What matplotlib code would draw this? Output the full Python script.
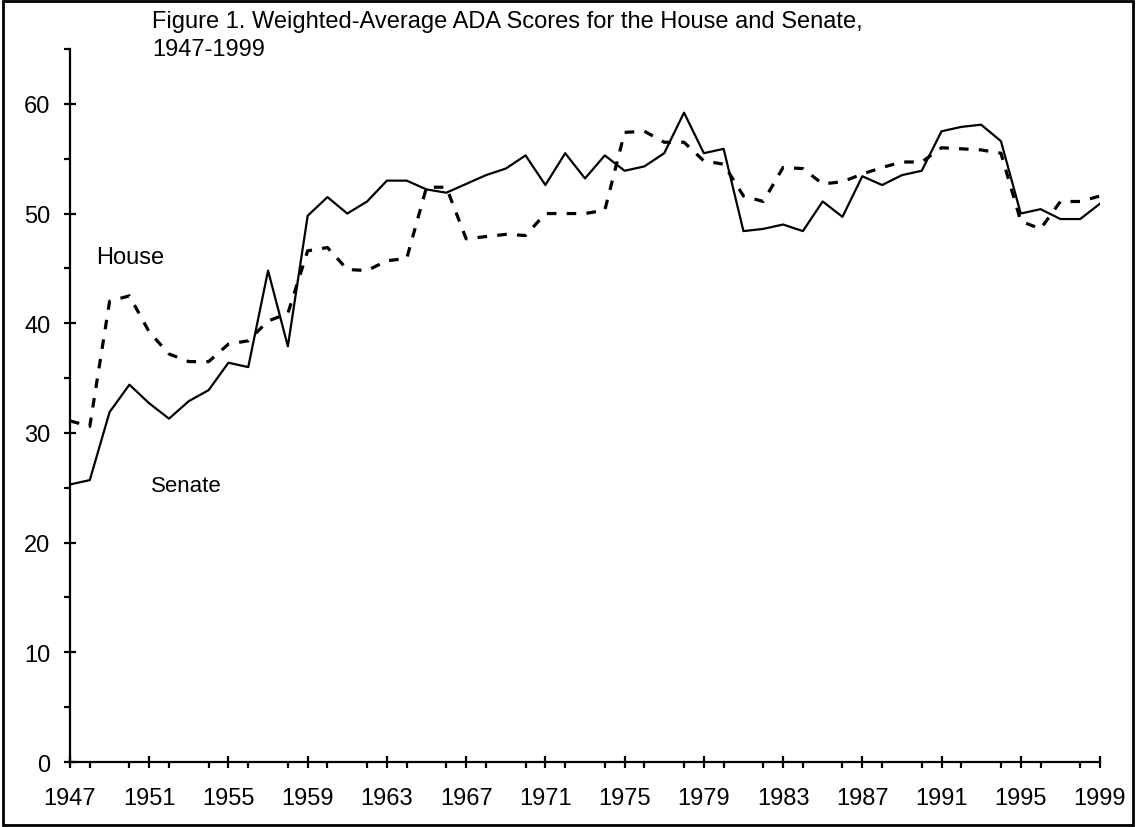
import matplotlib
matplotlib.use("Agg")
import matplotlib.pyplot as plt
from matplotlib.patches import Rectangle
from matplotlib.ticker import MultipleLocator

plt.rcParams['font.family'] = ['Liberation Sans', 'DejaVu Sans']

# data
years = list(range(1947, 2000))
senate = [25.3, 25.7, 31.9, 34.4, 32.7, 31.3, 32.9, 33.9, 36.4, 36.0,
          44.8, 37.9, 49.8, 51.5, 50.0, 51.1, 53.0, 53.0, 52.2, 51.9,
          52.7, 53.5, 54.1, 55.3, 52.6, 55.5, 53.2, 55.3, 53.9, 54.3,
          55.5, 59.2, 55.5, 55.9, 48.4, 48.6, 49.0, 48.4, 51.1, 49.7,
          53.4, 52.6, 53.5, 53.9, 57.5, 57.9, 58.1, 56.6, 50.0, 50.4,
          49.5, 49.5, 50.9]
house = [31.1, 30.6, 42.0, 42.5, 39.2, 37.2, 36.5, 36.5, 38.1, 38.4,
         40.2, 40.9, 46.6, 46.9, 44.9, 44.8, 45.7, 45.9, 52.4, 52.4,
         47.7, 47.9, 48.1, 48.0, 50.0, 50.0, 50.0, 50.3, 57.4, 57.5,
         56.5, 56.5, 54.8, 54.5, 51.6, 51.1, 54.2, 54.1, 52.7, 52.9,
         53.6, 54.2, 54.7, 54.7, 56.0, 55.9, 55.8, 55.5, 49.3, 48.6,
         51.1, 51.1, 51.6]
x_labels = list(range(1947, 2000, 4))
title_lines = ["Figure 1. Weighted-Average ADA Scores for the House and Senate,",
               "1947-1999"]

fig = plt.figure(figsize=(11.36, 8.28), dpi=100)
ax = fig.add_axes([0.0616, 0.0785, 0.9067, 0.8611])

ax.plot(years, senate, color="black", linewidth=1.6)
ax.plot(years, house, color="black", linewidth=2.3, dashes=(3, 3.2))

ax.set_xlim(1947, 1999)
ax.set_ylim(0, 65)
ax.set_xticks(x_labels)
ax.set_xticklabels([str(y) for y in x_labels])
ax.xaxis.set_minor_locator(MultipleLocator(2))
ax.set_yticks(range(0, 61, 10))
ax.set_yticks(range(5, 66, 10), minor=True)

for s in ["top", "right"]:
    ax.spines[s].set_visible(False)
for s in ["left", "bottom"]:
    ax.spines[s].set_linewidth(1.6)

ax.tick_params(axis="both", which="major", direction="inout", length=8,
               width=1.6, labelsize=17)
ax.tick_params(axis="both", which="minor", direction="out", length=4.5,
               width=1.6)
ax.tick_params(axis="x", which="major", pad=14)
ax.tick_params(axis="y", which="major", pad=10)

ax.text(1948.3, 46.0, "House", fontsize=17, va="center", ha="left")
ax.text(1951.1, 25.2, "Senate", fontsize=16, va="center", ha="left")

fig.text(0.134, 1 - 28 / 828, title_lines[0], fontsize=17, va="baseline", ha="left")
fig.text(0.134, 1 - 56 / 828, title_lines[1], fontsize=17, va="baseline", ha="left")

# border around the whole figure
fig.patches.append(Rectangle((0.003, 0.003), 0.994, 0.994, transform=fig.transFigure,
                             fill=False, edgecolor="black", linewidth=2))

fig.savefig("out.png", dpi=100)
